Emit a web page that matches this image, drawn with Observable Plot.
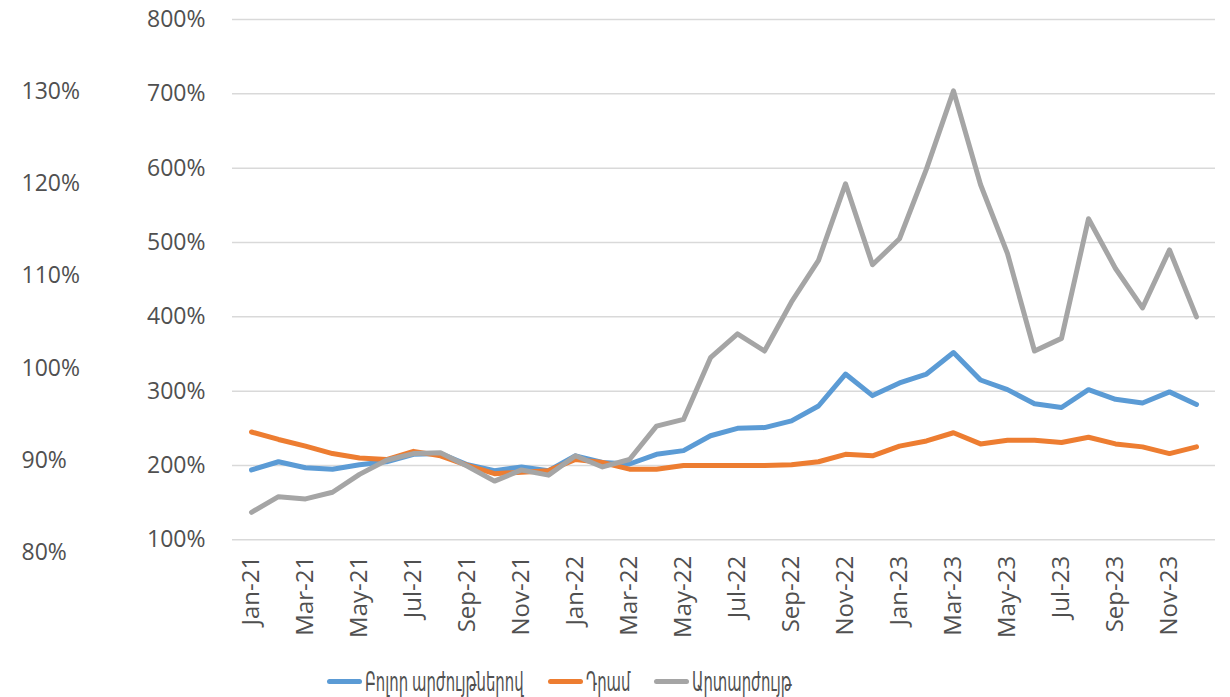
<!DOCTYPE html>
<html><head><meta charset="utf-8">
<script src="https://cdn.jsdelivr.net/npm/d3@7"></script>
<script src="https://cdn.jsdelivr.net/npm/@observablehq/plot@0.6"></script>
<style>
body{margin:0;background:#fff;font-family:"Open Sans","DejaVu Sans",sans-serif;}
#wrap{position:relative;width:1230px;height:697px;}
#main{position:absolute;left:0;top:0;}
#left{position:absolute;left:0;top:0;pointer-events:none;}
#legend{position:absolute;left:327px;top:667px;height:28px;display:flex;align-items:center;gap:24px;font-size:27px;line-height:28px;color:#505050;white-space:nowrap;}
.item{display:flex;align-items:center;}
.sw{width:35px;height:5px;border-radius:3px;margin-right:3px;flex:none;}
.lt{display:inline-block;transform-origin:0 50%;}
</style></head><body>
<div id="wrap"><div id="main"></div><div id="left"></div><div id="legend"></div></div>
<script>
const months = ["Jan-21","Feb-21","Mar-21","Apr-21","May-21","Jun-21","Jul-21","Aug-21","Sep-21","Oct-21","Nov-21","Dec-21",
"Jan-22","Feb-22","Mar-22","Apr-22","May-22","Jun-22","Jul-22","Aug-22","Sep-22","Oct-22","Nov-22","Dec-22",
"Jan-23","Feb-23","Mar-23","Apr-23","May-23","Jun-23","Jul-23","Aug-23","Sep-23","Oct-23","Nov-23","Dec-23"];
const seriesNames = ["Բոլոր արժույթներով","Դրամ","Արտարժույթ"];
const seriesColors = ["#5B9BD5","#ED7D31","#A5A5A5"];
const allCurrencies = [194,205,197,195,201,205,215,216,201,193,198,193,
213,204,202,215,220,240,250,251,260,280,323,294,
311,323,352,315,302,283,278,302,289,284,299,282];
const dram = [245,235,226,216,210,208,219,213,200,189,191,193,
208,204,195,195,200,200,200,200,201,205,215,213,
226,233,244,229,234,234,231,238,229,225,216,225];
const foreign = [137,158,155,164,188,207,216,217,199,179,194,187,
213,198,208,253,262,345,377,354,420,476,579,470,
505,599,704,578,485,354,371,532,465,412,490,400];
const yTicks = [100,200,300,400,500,600,700,800];
const leftTicks = [80,90,100,110,120,130];
const xTickLabels = ["Jan-21","Mar-21","May-21","Jul-21","Sep-21","Nov-21","Jan-22","Mar-22","May-22","Jul-22","Sep-22","Nov-22","Jan-23","Mar-23","May-23","Jul-23","Sep-23","Nov-23"];

const data = [];
[allCurrencies, dram, foreign].forEach((vals, s) =>
  vals.forEach((v, i) => data.push({month: months[i], value: v, series: seriesNames[s]})));

const H = 662;
const font = "'Open Sans','DejaVu Sans',sans-serif";
const textColor = "#505050";
const main = Plot.plot({
  width: 1230, height: H,
  marginTop: 19, marginBottom: H - 539.3, marginLeft: 232, marginRight: 15,
  style: {fontFamily: font, fontSize: "23px", color: textColor, background: "transparent"},
  x: {type: "point", domain: months, padding: 0.5},
  y: {domain: [100, 800]},
  color: {domain: seriesNames, range: seriesColors},
  marks: [
    Plot.ruleY(yTicks, {stroke: "#d9d9d9", strokeWidth: 1.5}),
    Plot.axisY({ticks: yTicks, tickFormat: d => d + "%", tickSize: 0, tickPadding: 27, label: null, fontSize: 23}),
    Plot.axisX({ticks: xTickLabels, tickRotate: -90, tickSize: 0, tickPadding: 16, label: null, fontSize: 24}),
    Plot.line(data, {x: "month", y: "value", stroke: "series", z: "series", strokeWidth: 5,
      strokeLinejoin: "round", strokeLinecap: "round"})
  ]
});
document.getElementById("main").appendChild(main);

const left = Plot.plot({
  width: 120, height: H,
  marginTop: 90.7, marginBottom: H - 552.3, marginLeft: 21, marginRight: 0,
  style: {fontFamily: font, fontSize: "23px", color: textColor, background: "transparent"},
  y: {domain: [80, 130]},
  marks: [
    Plot.axisY({ticks: leftTicks, tickFormat: d => d + "%", tickSize: 0, tickPadding: 0, textAnchor: "start", label: null, fontSize: 23})
  ]
});
document.getElementById("left").appendChild(left);

const legendScale = 0.55;
const legend = document.getElementById("legend");
seriesNames.forEach((name, i) => {
  const item = document.createElement("div");
  item.className = "item";
  const sw = document.createElement("div");
  sw.className = "sw";
  sw.style.background = seriesColors[i];
  const t = document.createElement("span");
  t.className = "lt";
  t.textContent = name;
  item.appendChild(sw); item.appendChild(t);
  legend.appendChild(item);
  const w = t.getBoundingClientRect().width;
  t.style.transform = `scaleX(${legendScale})`;
  t.style.marginRight = `${-w * (1 - legendScale)}px`;
});
</script>
</body></html>
